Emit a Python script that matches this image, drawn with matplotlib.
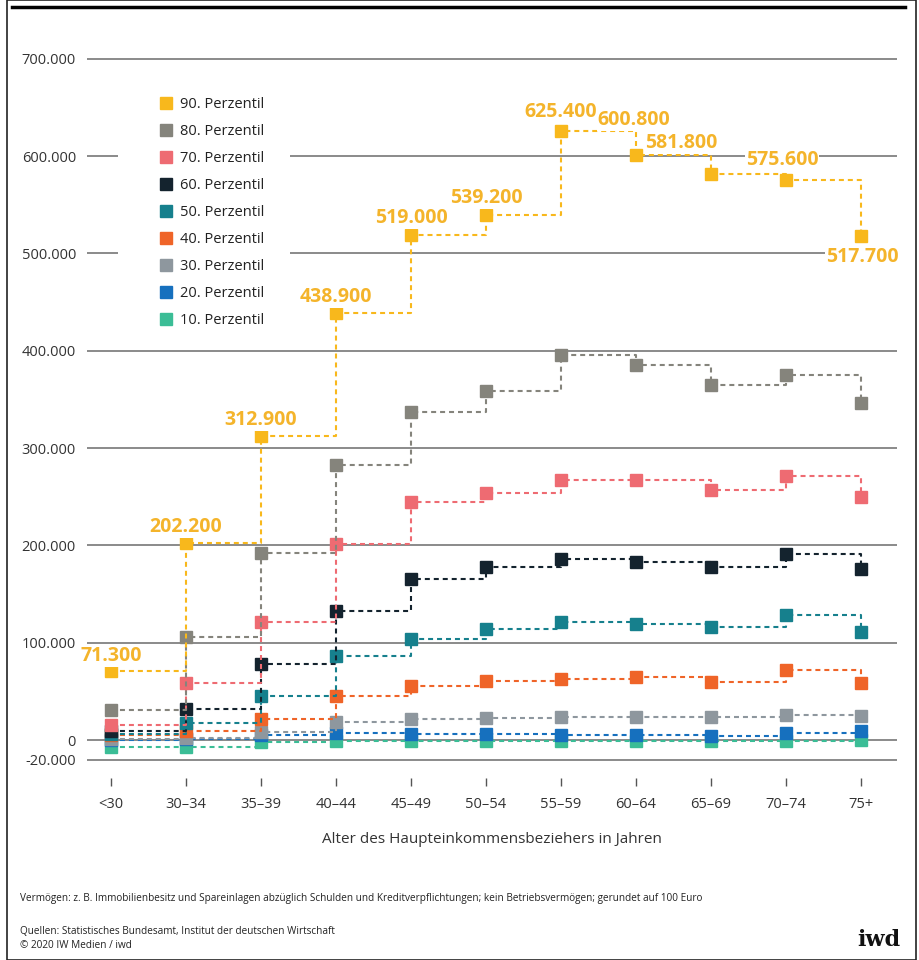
import matplotlib.pyplot as plt
from matplotlib.lines import Line2D
from matplotlib.patches import Rectangle
from matplotlib.ticker import FuncFormatter
import numpy as np

plt.rcParams['font.family'] = ['Open Sans', 'DejaVu Sans']

# Daten (Vermögen in Euro nach Alter)
altersgruppen = ["<30", "30–34", "35–39", "40–44", "45–49", "50–54",
                 "55–59", "60–64", "65–69", "70–74", "75+"]

p90 = [71300, 202200, 312900, 438900, 519000, 539200, 625400, 600800, 581800, 575600, 517700]
p80 = [30500, 106000, 192000, 282600, 337400, 359000, 396000, 385700, 365000, 375000, 346000]
p70 = [15400, 58300, 121600, 201100, 244300, 253500, 267500, 266900, 256600, 271300, 249700]
p60 = [9600, 31900, 78100, 132900, 165100, 177800, 186300, 182600, 178100, 191200, 176100]
p50 = [6000, 17800, 45200, 86300, 103800, 114100, 121000, 119500, 116400, 128800, 111300]
p40 = [5000, 9600, 21300, 45200, 55500, 61000, 62700, 64400, 59900, 71900, 58900]
p30 = [1500, 2400, 8500, 18800, 21900, 22900, 23300, 23300, 23300, 25400, 24700]
p20 = [0, 1000, 5000, 6900, 5900, 5900, 5100, 5100, 4500, 7200, 9600]
p10 = [-7500, -6900, -2400, -700, -700, -500, -1000, -1000, -1000, -1000, 0]

labels = ["90. Perzentil", "80. Perzentil", "70. Perzentil", "60. Perzentil", "50. Perzentil",
          "40. Perzentil", "30. Perzentil", "20. Perzentil", "10. Perzentil"]
reihen = [p90, p80, p70, p60, p50, p40, p30, p20, p10]
farben = ["#F8B81C", "#85847C", "#EE6B72", "#14232E", "#16808D",
          "#EF6428", "#8E979E", "#1670BE", "#3BBD96"]

yticks = [-20000, 0, 100000, 200000, 300000, 400000, 500000, 600000, 700000]

# label offsets (px) for the 90th percentile values
lab_off = [(0, 15), (0, 16), (0, 16), (0, 16), (0, 17), (0, 17), (0, 19),
           (-2, 35), (-30, 31), (-4, 20), (1, -21)]

W, H = 919, 960
fig = plt.figure(figsize=(W / 100, H / 100), dpi=100)
ax = fig.add_axes([87 / W, 1 - 778 / H, (897 - 87) / W, (778 - 54) / H])

x = np.arange(len(altersgruppen))

for y_ in yticks:
    ax.axhline(y_, color="#8a8a8a", lw=1.4, zorder=1)

# white box behind legend (gridlines are cut there)
ax.add_patch(Rectangle((118 / W, 1 - 340 / H), (290 - 118) / W, (340 - 75) / H,
                       transform=fig.transFigure, fc="white", ec="none", zorder=2))

# draw low percentiles first
for r, c in list(zip(reihen, farben))[::-1]:
    ax.plot(x, r, drawstyle="steps-post", color=c, lw=1.5,
            linestyle=(0, (2.4, 1.9)), marker="s", markersize=9,
            markerfacecolor=c, markeredgecolor=c, zorder=3)

for i, v in enumerate(p90):
    dx, dy = lab_off[i]
    ax.annotate(f"{v:,.0f}".replace(",", "."), (x[i], v),
                xytext=(dx * 0.72, dy * 0.72), textcoords="offset points",
                ha="center", va="center", fontsize=14, fontweight="bold",
                color="#F4B42B", zorder=5,
                bbox=dict(boxstyle="square,pad=0.05", fc="white", ec="none"))

ax.set_xlim(-0.32, 10.48)
ax.set_ylim(-39000, 705000)
ax.set_yticks(yticks)
ax.yaxis.set_major_formatter(FuncFormatter(lambda v, p: f"{v:,.0f}".replace(",", ".")))
ax.set_xticks(x)
ax.set_xticklabels(altersgruppen)
ax.tick_params(axis="y", length=0, pad=8, labelsize=10.5, labelcolor="#333333")
ax.tick_params(axis="x", length=6, width=1, color="#555555", pad=8,
               labelsize=10.5, labelcolor="#333333")
for s in ax.spines.values():
    s.set_visible(False)
ax.set_xlabel("Alter des Haupteinkommensbeziehers in Jahren", fontsize=11,
              color="#333333", labelpad=14)

handles = [Line2D([], [], linestyle="none", marker="s", markersize=9,
                  markerfacecolor=c, markeredgecolor=c) for c in farben]
leg = ax.legend(handles, labels, loc="upper left",
                bbox_to_anchor=(160 / W, 1 - 97 / H), bbox_transform=fig.transFigure,
                frameon=False, fontsize=10.5, handlelength=0.8, handletextpad=0.6,
                labelspacing=0.82, borderpad=0, borderaxespad=0)
leg.set_zorder(6)
for t in leg.get_texts():
    t.set_color("#222222")

# frame and top line
fig.patches.append(Rectangle((7 / W, 0), (916 - 7) / W, 1, transform=fig.transFigure,
                             fill=False, edgecolor="#222222", lw=1.2))
fig.add_artist(Line2D([12 / W, 905 / W], [1 - 7 / H, 1 - 7 / H], color="black", lw=2.5))

fig.text(20 / W, 1 - 899 / H,
         "Vermögen: z. B. Immobilienbesitz und Spareinlagen abzüglich Schulden und "
         "Kreditverpflichtungen; kein Betriebsvermögen; gerundet auf 100 Euro",
         fontsize=7.2, color="#222222", va="center")
fig.text(20 / W, 1 - 932 / H, "Quellen: Statistisches Bundesamt, Institut der deutschen Wirtschaft",
         fontsize=7.2, color="#222222", va="center")
fig.text(20 / W, 1 - 946 / H, "© 2020 IW Medien / iwd", fontsize=7.2, color="#222222", va="center")
fig.text(900 / W, 1 - 940 / H, "iwd", fontsize=16, fontweight="bold", family="DejaVu Serif",
         color="#111111", ha="right", va="center")

fig.savefig("out.png", dpi=100)
